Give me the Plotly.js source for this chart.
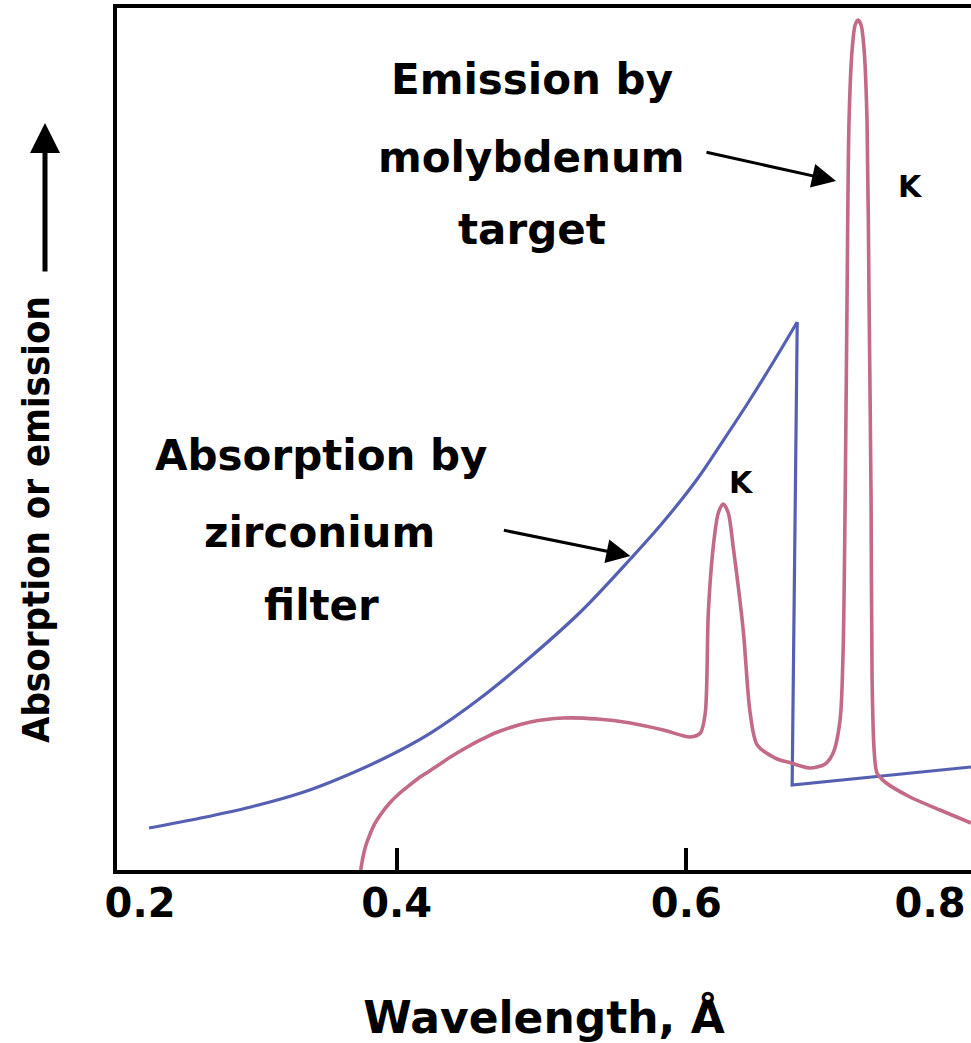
<!DOCTYPE html>
<html>
<head>
<meta charset="utf-8">
<script src="https://cdn.plot.ly/plotly-3.0.1.min.js"></script>
<style>html,body{margin:0;padding:0;background:#fff;}#chart{width:971px;height:1043px;}</style>
</head>
<body>
<div id="chart"></div>
<script>
// Absorption by zirconium filter (blue): short-wavelength branch up to the K edge
const absWavelengthBelowEdge = [0.2290, 0.2648, 0.2993, 0.3338, 0.3545, 0.3890, 0.4234, 0.4579, 0.4924, 0.5269, 0.5614, 0.5841, 0.6076, 0.6248, 0.6421, 0.6593, 0.6766];
const absorptionBelowEdge    = [4.87, 6.03, 7.31, 8.93, 10.21, 12.76, 15.89, 19.95, 24.71, 29.93, 36.08, 40.37, 45.36, 49.65, 54.06, 58.70, 63.57];
// K edge drop and long-wavelength branch
const absWavelengthAboveEdge = [0.6766, 0.6731, 0.7966];
const absorptionAboveEdge    = [63.57, 9.86, 11.95];

// Emission by molybdenum target (red)
const emWavelength = [0.3752, 0.3766, 0.3786, 0.3814, 0.3848, 0.3897, 0.3952, 0.4014, 0.4090, 0.4172, 0.4269, 0.4372, 0.4476, 0.4593, 0.4697, 0.4924, 0.5152, 0.5386, 0.5614, 0.5841, 0.6028, 0.6097, 0.6131, 0.6152, 0.6186, 0.6221, 0.6255, 0.6290, 0.6324, 0.6393, 0.6441, 0.6490, 0.6614, 0.6724, 0.6855, 0.6959, 0.7014, 0.7062, 0.7083, 0.7097, 0.7110, 0.7124, 0.7145, 0.7166, 0.7186, 0.7207, 0.7228, 0.7248, 0.7262, 0.7276, 0.7283, 0.7297, 0.7317, 0.7372, 0.7545, 0.7752, 0.7966];
const emission     = [0, 1.39, 2.78, 4.06, 5.34, 6.61, 7.77, 8.82, 9.86, 10.90, 11.95, 13.11, 14.15, 15.20, 16.01, 17.17, 17.63, 17.52, 17.05, 16.24, 15.43, 15.89, 18.21, 29.81, 37.47, 41.42, 42.46, 41.42, 37.47, 27.84, 18.21, 14.50, 12.99, 12.41, 11.83, 12.30, 13.57, 17.40, 25.52, 42.92, 66.13, 87.01, 95.13, 98.03, 98.61, 98.03, 95.13, 87.01, 66.13, 42.92, 22.04, 13.92, 11.25, 10.21, 8.47, 6.96, 5.45];

// Axis ticks
const tickMarkValues  = [0.4, 0.6];
const tickLabelValues = [0.2228, 0.4, 0.6, 0.7683];
const tickLabelTexts  = ['0.2', '0.4', '0.6', '0.8'];

// Peak labels
const peakLabelX = [0.7545, 0.6379];
const peakLabelY = [79.35, 45.01];
const peakLabelText = ['K', 'K'];

const BOLD = {family: 'DejaVu Sans, Arial, sans-serif', weight: 'bold', color: '#000'};
const XRANGE = [0.2069, 0.7966];
const BLUE = '#5560b2';

const traces = [
  {x: absWavelengthBelowEdge, y: absorptionBelowEdge, type: 'scatter', mode: 'lines', name: 'Absorption by zirconium filter',
   line: {color: BLUE, width: 3.2, shape: 'spline', smoothing: 1}, xaxis: 'x', yaxis: 'y', hoverinfo: 'skip'},
  {x: absWavelengthAboveEdge, y: absorptionAboveEdge, type: 'scatter', mode: 'lines', name: 'Absorption (K edge)',
   line: {color: BLUE, width: 3.2, shape: 'linear'}, xaxis: 'x', yaxis: 'y', hoverinfo: 'skip'},
  {x: emWavelength, y: emission, type: 'scatter', mode: 'lines', name: 'Emission by molybdenum target',
   line: {color: '#c26a86', width: 3.6, shape: 'spline', smoothing: 0.8}, xaxis: 'x2', yaxis: 'y', hoverinfo: 'skip'}
];

const LBL = Object.assign({size: 42}, BOLD);
function label(x, y, t) {
  return {xref: 'paper', yref: 'paper', x: x, y: y, xanchor: 'center', yanchor: 'middle', text: t, showarrow: false, font: LBL};
}
const annotations = [
  label(0.4859, 0.9165, 'Emission by'),
  label(0.4859, 0.8260, 'molybdenum'),
  label(0.4859, 0.7425, 'target'),
  label(0.2400, 0.4814, 'Absorption by'),
  label(0.2377, 0.3921, 'zirconium'),
  label(0.2389, 0.3074, 'filter'),
  // arrows pointing to curves
  {xref: 'x', yref: 'y', x: 0.7034, y: 79.93, ax: -131, ay: -29, text: '', showarrow: true,
   arrowhead: 2, arrowsize: 1.6, arrowwidth: 3, arrowcolor: '#000'},
  {xref: 'x', yref: 'y', x: 0.5614, y: 36.43, ax: -128, ay: -26, text: '', showarrow: true,
   arrowhead: 2, arrowsize: 1.6, arrowwidth: 3, arrowcolor: '#000'},
  // y-axis title and its direction arrow
  {xref: 'paper', yref: 'paper', x: -0.0948, y: 0.406, xanchor: 'center', yanchor: 'middle', textangle: -90,
   text: 'Absorption or emission', showarrow: false,
   font: {family: 'DejaVu Sans Condensed, Liberation Sans Narrow, DejaVu Sans, sans-serif', weight: 'bold', size: 38, color: '#000'}},
  {xref: 'paper', yref: 'paper', x: -0.0843, y: 0.8666, ax: 0, ay: 150, text: '', showarrow: true,
   arrowhead: 2, arrowsize: 1.2, arrowwidth: 5, arrowcolor: '#000'}
];
peakLabelText.forEach((t, i) => annotations.push({xref: 'x', yref: 'y', x: peakLabelX[i], y: peakLabelY[i], text: t,
  xanchor: 'center', yanchor: 'middle', showarrow: false, font: Object.assign({size: 30}, BOLD)}));

const layout = {
  width: 971, height: 1043,
  margin: {l: 117, r: 0, t: 8, b: 173},
  paper_bgcolor: '#fff', plot_bgcolor: '#fff',
  showlegend: false,
  xaxis: {
    range: XRANGE, showline: true, linewidth: 4, linecolor: '#000', mirror: true,
    ticks: 'inside', ticklen: 22, tickwidth: 4, tickcolor: '#000',
    tickmode: 'array', tickvals: tickMarkValues, showticklabels: false,
    showgrid: false, zeroline: false,
    title: {text: 'Wavelength, Å', font: Object.assign({size: 44}, BOLD), standoff: 132}
  },
  xaxis2: {
    range: XRANGE, overlaying: 'x', anchor: 'y', side: 'bottom', matches: 'x',
    showline: false, ticks: '', showgrid: false, zeroline: false,
    tickmode: 'array', tickvals: tickLabelValues, ticktext: tickLabelTexts,
    tickfont: Object.assign({size: 40}, BOLD), ticklabelstandoff: 6
  },
  yaxis: {
    range: [0, 100], showline: true, linewidth: 4, linecolor: '#000',
    ticks: '', showticklabels: false, showgrid: false, zeroline: false
  },
  annotations: annotations
};

Plotly.newPlot('chart', traces, layout, {displayModeBar: false, staticPlot: true});
</script>
</body>
</html>
